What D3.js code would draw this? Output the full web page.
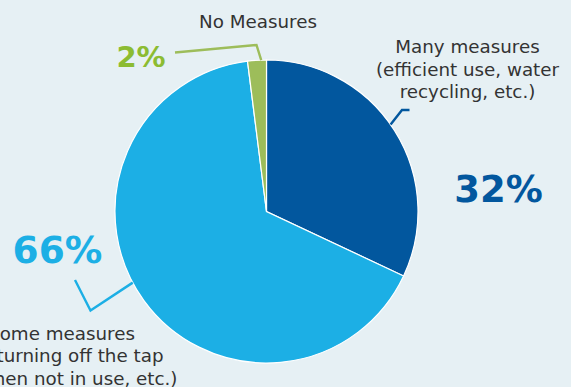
<!DOCTYPE html>
<html>
<head>
<meta charset="utf-8">
<script src="https://cdn.jsdelivr.net/npm/d3@7"></script>
<style>
  html, body { margin: 0; padding: 0; background: #e6f0f4; }
  svg { display: block; }
  text { font-family: "DejaVu Sans", Verdana, sans-serif; }
</style>
</head>
<body>
<svg id="chart" width="571" height="387"></svg>
<script>
// Share of respondents by water-saving measures taken
const categories = ["Many measures", "Some measures", "No Measures"];
const values = [32, 66, 2];
const colors = ["#02579e", "#1cafe5", "#9dbd5a"];
const pctColors = ["#02579e", "#1cafe5", "#8cbc32"];
const labelLines = [
  ["Many measures", "(efficient use, water", "recycling, etc.)"],
  ["Some measures", "(turning off the tap", "(when not in use, etc.)"],
  ["No Measures"]
];

const svg = d3.select("#chart");
const W = 571, H = 387;
svg.append("rect").attr("width", W).attr("height", H).attr("fill", "#e6f0f4");

const cx = 266.5, cy = 211.5, R = 151.5;
const g = svg.append("g").attr("transform", `translate(${cx},${cy})`);

const pie = d3.pie().sort(null).value(d => d)(values);
const arc = d3.arc().innerRadius(0).outerRadius(R);

g.selectAll("path.slice")
  .data(pie)
  .join("path")
  .attr("class", "slice")
  .attr("d", arc)
  .attr("fill", (d, i) => colors[i])
  .attr("stroke", "#ffffff")
  .attr("stroke-width", 1.2);

// point on the rim at a given angle (radians, clockwise from 12 o'clock)
const rim = a => [cx + R * Math.sin(a), cy - R * Math.cos(a)];
const deg = Math.PI / 180;

// leader lines: start on the rim, then bend out to the label
const leaders = [
  { i: 0, a: 55 * deg, pts: [[402, 110], [409.5, 110]] },
  { i: 1, a: 242 * deg, pts: [[90.5, 310.5], [75, 280]] },
  { i: 2, a: 358 * deg, pts: [[256.5, 45], [175, 52.5]] }
];
const line = d3.line();
svg.selectAll("path.leader")
  .data(leaders)
  .join("path")
  .attr("class", "leader")
  .attr("d", d => line([rim(d.a), ...d.pts]))
  .attr("fill", "none")
  .attr("stroke", d => colors[d.i])
  .attr("stroke-width", 2.4);

// percentage labels
const pctPos = [
  { x: 498.5, y: 202, size: 37 },
  { x: 57.5, y: 263, size: 37.5 },
  { x: 141, y: 66.5, size: 29 }
];
svg.selectAll("text.pct")
  .data(pie)
  .join("text")
  .attr("class", "pct")
  .attr("x", (d, i) => pctPos[i].x)
  .attr("y", (d, i) => pctPos[i].y)
  .attr("text-anchor", "middle")
  .attr("font-weight", "bold")
  .attr("font-size", (d, i) => pctPos[i].size)
  .attr("fill", (d, i) => pctColors[i])
  .text(d => d.data + "%");

// category labels, one anchor per line
const labelLayout = [
  { anchor: "middle", xs: [467.5, 467.5, 467.5], y: 53.3 },
  { anchor: "end", xs: [135, 163.5, 177.5], y: 340 },
  { anchor: "middle", xs: [258], y: 28.3 }
];
const lineH = 22.3;
labelLines.forEach((lines, i) => {
  const L = labelLayout[i];
  const t = svg.append("text")
    .attr("class", "cat")
    .attr("text-anchor", L.anchor)
    .attr("font-size", 18.3)
    .attr("fill", "#333333");
  lines.forEach((s, k) => {
    t.append("tspan")
      .attr("x", L.xs[k])
      .attr("y", L.y + k * lineH)
      .text(s);
  });
});
</script>
</body>
</html>
